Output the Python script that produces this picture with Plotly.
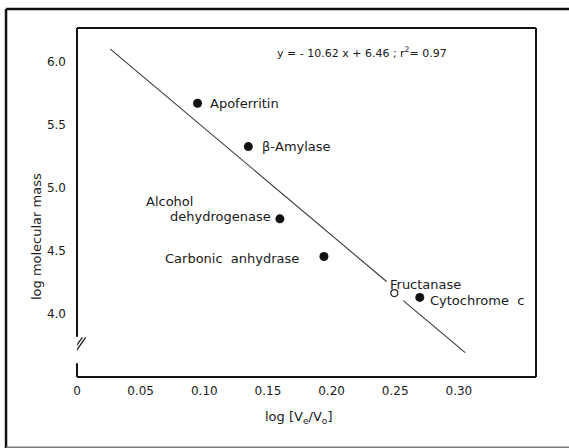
import plotly.graph_objects as go

# ---- data ----
proteins = ["Apoferritin", "β-Amylase", "Alcohol dehydrogenase", "Carbonic anhydrase", "Cytochrome c"]
log_ve_vo = [0.0947, 0.1346, 0.1594, 0.1940, 0.2693]
log_mass = [5.670, 5.327, 4.754, 4.455, 4.131]

unknown_name = "Fructanase"
unknown_x = [0.2493]
unknown_y = [4.165]

# regression line (drawn with a gap around the unknown)
fit_x1 = [0.0262, 0.2432]
fit_y1 = [6.100, 4.257]
fit_x2 = [0.2563, 0.3050]
fit_y2 = [4.106, 3.693]

x_tickvals = [0, 0.05, 0.10, 0.15, 0.20, 0.25, 0.30]
x_ticktext = ["0", "0.05", "0.10", "0.15", "0.20", "0.25", "0.30"]
y_tickvals = [4.0, 4.5, 5.0, 5.5, 6.0]
y_ticktext = ["4.0", "4.5", "5.0", "5.5", "6.0"]

X_RANGE = [0, 0.3606]
Y_RANGE = [3.50, 6.267]
BREAK_LO, BREAK_HI = 3.61, 3.82

FONT = "DejaVu Sans"
INK = "#1a1a1a"

fig = go.Figure()
line_style = dict(color="#3a3a3a", width=1.1)
fig.add_trace(go.Scatter(x=fit_x1, y=fit_y1, mode="lines", line=line_style, hoverinfo="skip"))
fig.add_trace(go.Scatter(x=fit_x2, y=fit_y2, mode="lines", line=line_style, hoverinfo="skip"))
fig.add_trace(go.Scatter(x=log_ve_vo, y=log_mass, mode="markers",
                         marker=dict(size=9, color="#111111"), text=proteins))
fig.add_trace(go.Scatter(x=unknown_x, y=unknown_y, mode="markers",
                         marker=dict(size=7, color="white", line=dict(color="#222222", width=1.2)),
                         text=[unknown_name]))

lab_font = dict(family=FONT, size=13, color=INK)
# label placement relative to each point (pixels)
offsets = {
    "Apoferritin": ("Apoferritin", "left", 10, 0),
    "β-Amylase": ("β-Amylase", "left", 12, 0),
    "Alcohol dehydrogenase": ("dehydrogenase", "right", -7, 2),
    "Carbonic anhydrase": ("Carbonic  anhydrase", "right", -23, -2),
    "Cytochrome c": ("Cytochrome  c", "left", 8, -3),
}
for name, xv, yv in zip(proteins, log_ve_vo, log_mass):
    txt, anc, dx, dy = offsets[name]
    fig.add_annotation(x=xv, y=yv, text=txt, showarrow=False, xanchor=anc, yanchor="middle",
                       xshift=dx, yshift=dy, font=lab_font)
    if name == "Alcohol dehydrogenase":
        fig.add_annotation(x=xv, y=yv, text="Alcohol", showarrow=False, xanchor="left",
                           yanchor="middle", xshift=-136, yshift=17, font=lab_font)
fig.add_annotation(x=unknown_x[0], y=unknown_y[0], text=unknown_name, showarrow=False,
                   xanchor="left", yanchor="middle", xshift=-6, yshift=9, font=lab_font)

# equation
fig.add_annotation(xref="paper", yref="paper", x=0.4307, y=0.929, xanchor="left", yanchor="middle",
                   text="y = - 10.62 x + 6.46 ; r<sup>2</sup>= 0.97", showarrow=False,
                   font=dict(family=FONT, size=11, color=INK))
# axis titles
fig.add_annotation(xref="paper", yref="paper", x=0.4815, y=-0.1166, xanchor="center", yanchor="middle",
                   text="log [V<sub>e</sub>/V<sub>o</sub>]", showarrow=False,
                   font=dict(family=FONT, size=13, color=INK))
fig.add_annotation(xref="paper", yref="paper", x=-0.0893, y=0.401, xanchor="center", yanchor="middle",
                   text="log molecular mass", textangle=-90, showarrow=False,
                   font=dict(family=FONT, size=13, color=INK))

box = dict(color="#111111", width=2)
frame = dict(color="#111111", width=2.5)
shapes = [
    # top, right, bottom of the box
    dict(type="line", xref="x domain", yref="y domain", x0=0, x1=1, y0=1, y1=1, line=box),
    dict(type="line", xref="x domain", yref="y domain", x0=1, x1=1, y0=0, y1=1, line=box),
    dict(type="line", xref="x domain", yref="y domain", x0=0, x1=1, y0=0, y1=0, line=box),
    # left axis with a break
    dict(type="line", xref="x domain", yref="y", x0=0, x1=0, y0=BREAK_HI, y1=Y_RANGE[1], line=box),
    dict(type="line", xref="x domain", yref="y", x0=0, x1=0, y0=Y_RANGE[0], y1=BREAK_LO, line=box),
    # break marks
    dict(type="line", xref="x", yref="y", x0=-0.0068, x1=0.0042, y0=3.655, y1=3.815,
         line=dict(color="#222222", width=1.3)),
    dict(type="line", xref="x", yref="y", x0=-0.0042, x1=0.0068, y0=3.655, y1=3.815,
         line=dict(color="#222222", width=1.3)),
    # outer frame (right side runs off the page)
    dict(type="line", xref="paper", yref="paper", x0=-0.1546, x1=1.2, y0=1.0545, y1=1.0545, line=frame),
    dict(type="line", xref="paper", yref="paper", x0=-0.1546, x1=-0.1546, y0=-0.21, y1=1.0545, line=frame),
    dict(type="line", xref="paper", yref="paper", x0=-0.1546, x1=1.2, y0=-0.2015, y1=-0.2015,
         line=dict(color="#777777", width=1.5)),
]

fig.update_layout(
    width=569, height=448,
    margin=dict(l=77, r=33, t=28, b=71),
    paper_bgcolor="white", plot_bgcolor="white",
    showlegend=False,
    shapes=shapes,
    font=dict(family=FONT, color=INK),
    xaxis=dict(range=X_RANGE, tickvals=x_tickvals, ticktext=x_ticktext, showgrid=False,
               zeroline=False, showline=False, ticks="", ticklabelstandoff=5,
               tickfont=dict(family=FONT, size=12, color=INK)),
    yaxis=dict(range=Y_RANGE, tickvals=y_tickvals, ticktext=y_ticktext, showgrid=False,
               zeroline=False, showline=False, ticks="", ticklabelstandoff=10,
               tickfont=dict(family=FONT, size=12, color=INK)),
)

fig.write_html("out.html")
